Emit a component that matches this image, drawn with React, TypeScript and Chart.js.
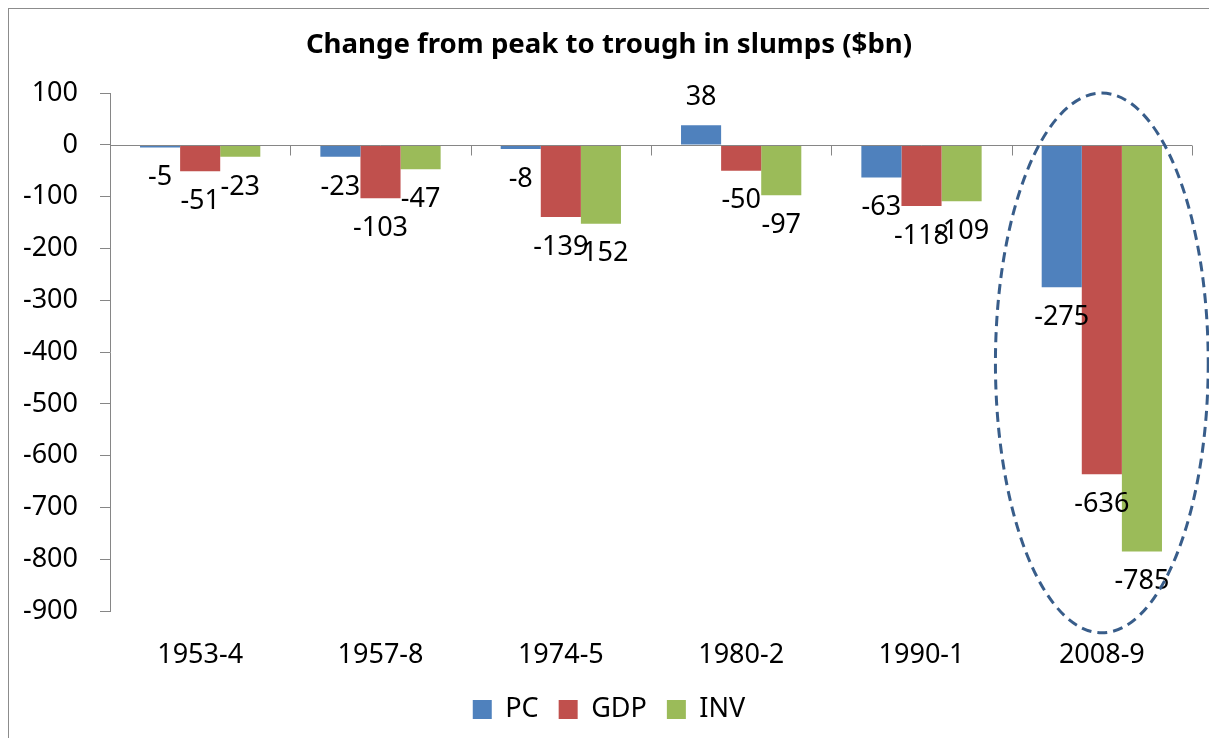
import React, { useEffect, useRef } from "react";
import { Chart, registerables } from "chart.js";

Chart.register(...registerables);

const categories = ["1953-4", "1957-8", "1974-5", "1980-2", "1990-1", "2008-9"];
const pcValues = [-5, -23, -8, 38, -63, -275];
const gdpValues = [-51, -103, -139, -50, -118, -636];
const invValues = [-23, -47, -152, -97, -109, -785];
const seriesNames = ["PC", "GDP", "INV"];
const seriesColors = ["#4F81BD", "#C0504D", "#9BBB59"];
const yMin = -900;
const yMax = 100;
const yStep = 100;
const highlightIndex = 5;
const highlightTop = 100;
const highlightBottom = -942;

const FONT = "'Noto Sans', 'Open Sans', sans-serif";
const AXIS_GRAY = "#868686";

const zeroAxisPlugin = {
  id: "zeroAxis",
  afterDatasetsDraw(chart: any) {
    const { ctx, chartArea, scales } = chart;
    const y0 = Math.round(scales.y.getPixelForValue(0)) + 0.5;
    ctx.save();
    ctx.strokeStyle = AXIS_GRAY;
    ctx.lineWidth = 1;
    ctx.beginPath();
    ctx.moveTo(chartArea.left, y0);
    ctx.lineTo(chartArea.right, y0);
    for (let i = 0; i <= categories.length; i++) {
      const x = Math.round(scales.x.getPixelForValue(i - 0.5)) + 0.5;
      ctx.moveTo(x, y0);
      ctx.lineTo(x, y0 + 10);
    }
    ctx.stroke();
    ctx.restore();
  },
};

const dataLabelPlugin = {
  id: "dataLabels",
  afterDatasetsDraw(chart: any) {
    const { ctx } = chart;
    ctx.save();
    ctx.font = `27px ${FONT}`;
    ctx.fillStyle = "#000";
    ctx.textAlign = "center";
    ctx.textBaseline = "middle";
    chart.data.datasets.forEach((ds: any, di: number) => {
      const meta = chart.getDatasetMeta(di);
      meta.data.forEach((el: any, j: number) => {
        const v = ds.data[j] as number;
        const { x, y } = el.getProps(["x", "y"], true);
        ctx.fillText(String(v), x, v < 0 ? y + 30 : y - 28);
      });
    });
    ctx.restore();
  },
};

const ellipsePlugin = {
  id: "highlightEllipse",
  afterDraw(chart: any) {
    const { ctx, scales } = chart;
    const cx = scales.x.getPixelForValue(highlightIndex);
    const catW = scales.x.getPixelForValue(1) - scales.x.getPixelForValue(0);
    const top = scales.y.getPixelForValue(highlightTop);
    const bottom = scales.y.getPixelForValue(highlightBottom);
    const cy = (top + bottom) / 2;
    const ry = (bottom - top) / 2;
    const rx = catW * 0.59;
    ctx.save();
    ctx.strokeStyle = "#385D8A";
    ctx.lineWidth = 3;
    ctx.setLineDash([10, 6]);
    ctx.beginPath();
    ctx.ellipse(cx, cy, rx, ry, 0, 0, Math.PI * 2);
    ctx.stroke();
    ctx.restore();
  },
};

export default function App() {
  const ref = useRef<HTMLCanvasElement>(null);

  useEffect(() => {
    document.body.style.overflow = "hidden";
    const values = [pcValues, gdpValues, invValues];
    const chart = new Chart(ref.current as HTMLCanvasElement, {
      type: "bar",
      data: {
        labels: categories,
        datasets: seriesNames.map((name, i) => ({
          label: name,
          data: values[i],
          backgroundColor: seriesColors[i],
          borderWidth: 0,
          categoryPercentage: 0.667,
          barPercentage: 1,
          yAxisID: "y",
        })),
      },
      options: {
        responsive: false,
        animation: false,
        devicePixelRatio: 1,
        layout: { padding: { left: 0, right: 0, top: 0, bottom: 5 } },
        plugins: {
          title: {
            display: true,
            text: "Change from peak to trough in slumps ($bn)",
            color: "#000",
            font: { family: FONT, size: 27.6, weight: "bold", lineHeight: 1.2 },
            padding: { top: 20, bottom: 31 },
          },
          legend: {
            display: true,
            position: "bottom",
            labels: {
              color: "#000",
              font: { family: FONT, size: 27 },
              boxWidth: 19,
              boxHeight: 19,
              padding: 20,
            },
          },
          tooltip: { enabled: false },
        },
        scales: {
          x: {
            grid: { display: false, drawTicks: false },
            border: { display: false },
            afterFit: (scale: any) => {
              scale.height = 65;
            },
            ticks: {
              color: "#000",
              font: { family: FONT, size: 27 },
              padding: 28,
              maxRotation: 0,
            },
          },
          y: {
            min: yMin,
            max: yMax,
            afterFit: (scale: any) => {
              scale.width = 101;
            },
            ticks: {
              stepSize: yStep,
              color: "#000",
              font: { family: FONT, size: 27 },
              padding: 22,
            },
            grid: {
              display: true,
              drawOnChartArea: false,
              drawTicks: true,
              tickLength: 10,
              color: AXIS_GRAY,
            },
            border: { display: true, color: AXIS_GRAY },
          },
          yRight: {
            position: "right",
            display: true,
            min: yMin,
            max: yMax,
            ticks: { display: false },
            grid: { display: false, drawTicks: false },
            border: { display: false },
            afterFit: (scale: any) => {
              scale.width = 17;
            },
          },
        },
      },
      plugins: [zeroAxisPlugin, dataLabelPlugin, ellipsePlugin],
    } as any);
    return () => chart.destroy();
  }, []);

  return (
    <div
      style={{
        position: "fixed",
        left: 8,
        top: 8,
        width: 1201,
        height: 730,
        borderLeft: "1px solid #8c8c8c",
        borderTop: "1px solid #8c8c8c",
        boxSizing: "border-box",
        background: "#fff",
      }}
    >
      <canvas ref={ref} width={1200} height={729} style={{ display: "block", width: 1200, height: 729 }} />
    </div>
  );
}
